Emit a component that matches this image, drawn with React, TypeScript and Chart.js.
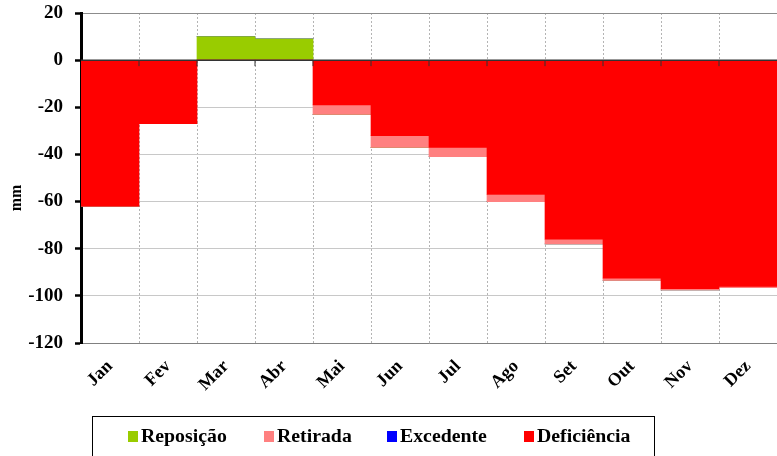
import React, { useEffect, useRef } from "react";
import { Chart, registerables } from "chart.js";

Chart.register(...registerables);

const months = ["Jan", "Fev", "Mar", "Abr", "Mai", "Jun", "Jul", "Ago", "Set", "Out", "Nov", "Dez"];
const deficiencia = [-62, -27, 0, 0, -19, -32, -37, -57, -76, -92.5, -97, -96];
const retirada = [0, 0, 0, 0, -4, -5, -4, -3, -2, -1, -0.5, -0.5];
const reposicao = [0, 0, 10, 9, 0, 0, 0, 0, 0, 0, 0, 0];
const excedente = [0, 0, 0, 0, 0, 0, 0, 0, 0, 0, 0, 0];
const yTicks = [20, 0, -20, -40, -60, -80, -100, -120];

const legendItems = [
  { label: "Reposição", color: "#99cc00", x: 127 },
  { label: "Retirada", color: "#ff8080", x: 263 },
  { label: "Excedente", color: "#0000ff", x: 386 },
  { label: "Deficiência", color: "#ff0000", x: 523 },
];

const FONT = "'Liberation Serif', 'Times New Roman', serif";

const overlayPlugin = {
  id: "overlay",
  afterDatasetsDraw(chart: any) {
    const { ctx, chartArea, scales } = chart;
    const x = scales.x;
    const y = scales.y;
    const y0 = y.getPixelForValue(0);
    ctx.save();
    ctx.strokeStyle = "#333";
    ctx.lineWidth = 1.5;
    ctx.beginPath();
    ctx.moveTo(chartArea.left, y0);
    ctx.lineTo(chartArea.right, y0);
    ctx.stroke();
    ctx.lineWidth = 1;
    for (let i = 1; i < months.length; i++) {
      const bx = (x.getPixelForValue(i - 1) + x.getPixelForValue(i)) / 2;
      ctx.beginPath();
      ctx.moveTo(bx, y0);
      ctx.lineTo(bx, y0 + 6);
      ctx.stroke();
    }
    ctx.restore();
  },
  afterDraw(chart: any) {
    const { ctx } = chart;
    ctx.save();
    ctx.translate(17, 198);
    ctx.rotate(-Math.PI / 2);
    ctx.fillStyle = "#000";
    ctx.font = `bold 16px ${FONT}`;
    ctx.textAlign = "center";
    ctx.textBaseline = "middle";
    ctx.fillText("mm", 0, 0);
    ctx.restore();
  },
};

export default function App() {
  const ref = useRef<HTMLCanvasElement | null>(null);
  useEffect(() => {
    const canvas = ref.current;
    if (!canvas) return;
    const chart = new Chart(canvas, {
      type: "bar",
      data: {
        labels: months,
        datasets: [
          { label: "Deficiência", data: deficiencia, backgroundColor: "#ff0000" },
          { label: "Retirada", data: retirada, backgroundColor: "#ff8080" },
          { label: "Reposição", data: reposicao, backgroundColor: "#99cc00" },
          { label: "Excedente", data: excedente, backgroundColor: "#0000ff" },
        ].map((d) => ({ ...d, borderWidth: 0, categoryPercentage: 1, barPercentage: 1 })),
      },
      options: {
        animation: false,
        responsive: true,
        maintainAspectRatio: false,
        layout: { padding: { top: 13, left: 0, right: 0, bottom: 0 } },
        plugins: { legend: { display: false }, tooltip: { enabled: false } },
        scales: {
          x: {
            stacked: true,
            afterFit: (s: any) => {
              s.height = 113;
              s.paddingLeft = 0;
              s.paddingRight = 0;
            },
            grid: {
              offset: true,
              color: "#b4b4b4",
              lineWidth: 1,
              drawTicks: false,
            },
            border: { display: true, color: "#808080", width: 1, dash: [2, 2] },
            ticks: {
              autoSkip: false,
              minRotation: 45,
              maxRotation: 45,
              padding: 13,
              color: "#000",
              font: { family: FONT, size: 18, weight: "bold" },
            },
          },
          y: {
            stacked: true,
            min: -120,
            max: 20,
            afterFit: (s: any) => {
              s.width = 81;
              s.paddingTop = 0;
              s.paddingBottom = 0;
            },
            afterBuildTicks: (s: any) => {
              s.ticks = yTicks.map((v) => ({ value: v }));
            },
            grid: {
              color: (c: any) => (c.tick && c.tick.value === 0 ? "rgba(0,0,0,0)" : c.tick && c.tick.value === 20 ? "#8c8c8c" : "#c8c8c8"),
              lineWidth: 1,
              tickColor: "#000",
              tickWidth: 2.5,
              tickLength: 6,
            },
            border: { display: true, color: "#000", width: 3 },
            ticks: {
              padding: 12,
              color: "#000",
              font: { family: FONT, size: 19, weight: "bold" },
            },
          },
        },
      },
      plugins: [overlayPlugin],
    });
    return () => chart.destroy();
  }, []);

  return (
    <div style={{ position: "absolute", left: 0, top: 0, width: 777, height: 456, background: "#fff", overflow: "hidden" }}>
      <canvas ref={ref} />
      <div
        style={{
          position: "absolute",
          left: 92,
          top: 416,
          width: 563,
          height: 50,
          border: "1px solid #000",
          boxSizing: "border-box",
        }}
      >
        {legendItems.map((it) => (
          <div
            key={it.label}
            style={{
              position: "absolute",
              left: it.x - 92,
              top: 9,
              display: "flex",
              alignItems: "center",
              fontFamily: FONT,
              fontWeight: "bold",
              fontSize: 18,
              color: "#000",
              whiteSpace: "nowrap",
            }}
          >
            <span style={{ display: "inline-block", width: 10, height: 11, background: it.color, marginRight: 3 }} />
            <span style={{ display: "inline-block", transform: "scaleX(1.1)", transformOrigin: "left center" }}>{it.label}</span>
          </div>
        ))}
      </div>
    </div>
  );
}
